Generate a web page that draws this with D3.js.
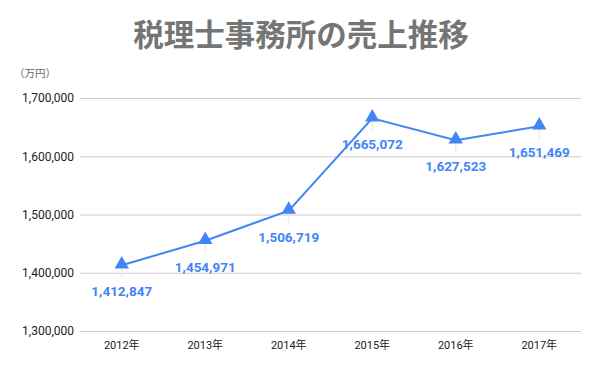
<!DOCTYPE html>
<html>
<head>
<meta charset="utf-8">
<script src="https://cdn.jsdelivr.net/npm/d3@7"></script>
<style>
  body { margin: 0; background: #fff; }
  svg { display: block; font-family: Roboto, Arial, "Noto Sans CJK JP", sans-serif; }
</style>
</head>
<body>
<svg id="chart" width="600" height="371"></svg>
<script>
// chart data
var years = ['2012年', '2013年', '2014年', '2015年', '2016年', '2017年'];
var sales = [1412847, 1454971, 1506719, 1665072, 1627523, 1651469];
var yTicks = [1300000, 1400000, 1500000, 1600000, 1700000];

var svg = d3.select('#chart');
var blue = '#4285F4';

var x = d3.scaleBand().domain(years).range([80, 581]);
var y = d3.scaleLinear().domain([1300000, 1700000]).range([331, 98]);
var fmt = d3.format(',');

// title
svg.append('text')
	.attr('x', 301)
	.attr('y', 46)
	.attr('text-anchor', 'middle')
	.attr('font-family', '"Noto Sans CJK JP", sans-serif')
	.attr('font-weight', 'bold')
	.attr('font-size', 30.5)
	.attr('fill', '#757575')
	.text('税理士事務所の売上推移');

// unit
svg.append('text')
	.attr('x', 14)
	.attr('y', 77)
	.attr('font-family', '"Noto Sans CJK JP", sans-serif')
	.attr('font-size', 10.5)
	.attr('fill', '#666')
	.text('（万円）');

// grid lines + y labels
var yAxis = d3.axisLeft(y).tickValues(yTicks).tickFormat(fmt).tickSize(-501).tickPadding(6);
var gy = svg.append('g').attr('transform', 'translate(80,0)').call(yAxis);
gy.select('.domain').remove();
gy.selectAll('line').attr('stroke', '#cccccc');
gy.selectAll('text').attr('font-size', 12).attr('fill', '#222').attr('font-family', 'Roboto, Arial, sans-serif');

// x labels
var xAxis = d3.axisBottom(x).tickSize(0).tickPadding(10);
var gx = svg.append('g').attr('transform', 'translate(0,331)').call(xAxis);
gx.select('.domain').remove();
gx.selectAll('text').attr('font-size', 11).attr('fill', '#222').attr('font-family', 'Roboto, "Noto Sans CJK JP", sans-serif');

var cx = function(d, i){ return x(years[i]) + x.bandwidth() / 2; };

// leader lines
svg.append('g').selectAll('line').data(sales).join('line')
	.attr('x1', cx).attr('x2', cx)
	.attr('y1', function(d){ return y(d) + 3; })
	.attr('y2', function(d){ return y(d) + 13; })
	.attr('stroke', '#e4e4e4');

// line
var line = d3.line()
	.x(function(d, i){ return cx(d, i); })
	.y(function(d){ return y(d); });
svg.append('path')
	.datum(sales)
	.attr('d', line)
	.attr('fill', 'none')
	.attr('stroke', blue)
	.attr('stroke-width', 2);

// triangle markers
var tri = d3.symbol().type(d3.symbolTriangle).size(90);
svg.append('g').selectAll('path').data(sales).join('path')
	.attr('d', tri)
	.attr('transform', function(d, i){ return 'translate(' + cx(d, i) + ',' + (y(d) - 1) + ')'; })
	.attr('fill', blue);

// data labels
svg.append('g').selectAll('text').data(sales).join('text')
	.attr('x', cx)
	.attr('y', function(d){ return y(d) + 31; })
	.attr('text-anchor', 'middle')
	.attr('font-size', 13.5)
	.attr('font-weight', 'bold')
	.attr('fill', blue)
	.text(function(d){ return fmt(d); });
</script>
</body>
</html>
